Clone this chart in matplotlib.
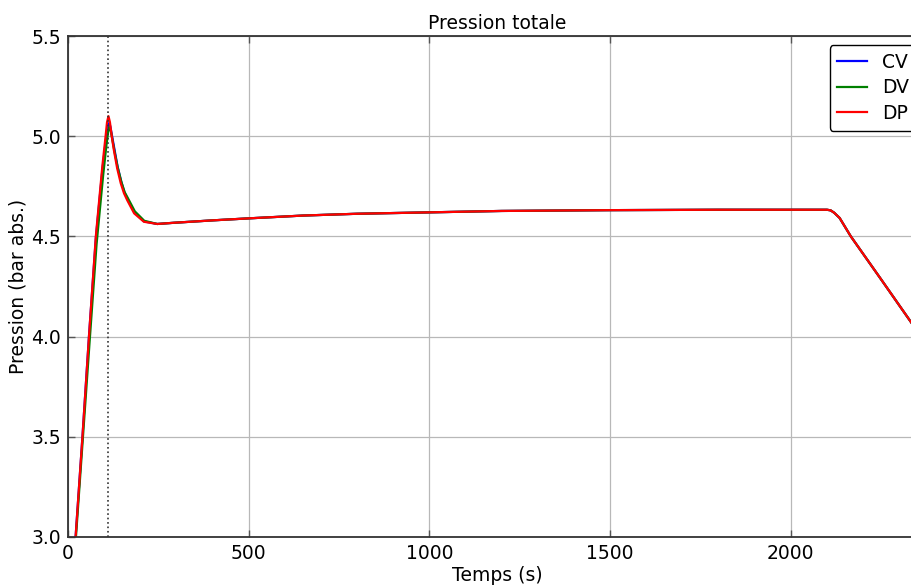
import matplotlib
matplotlib.use("Agg")
import matplotlib.pyplot as plt

# time (s) and total pressure (bar abs.)
# start-up part differs a little between the three cases
t_cv = [10, 21, 40, 58, 77, 95, 104, 109, 113, 117, 122, 128, 137, 147, 156, 165, 184, 210, 247]
p_cv = [2.70, 3.00, 3.50, 4.00, 4.49, 4.83, 4.97, 5.04, 5.065, 5.05, 5.00, 4.94, 4.85, 4.775, 4.72, 4.685, 4.62, 4.575, 4.562]

t_dv = [10, 22, 41, 60, 79, 97, 106, 111, 114, 118, 123, 129, 138, 148, 157, 166, 185, 211, 247]
p_dv = [2.68, 3.00, 3.49, 3.98, 4.46, 4.80, 4.95, 5.02, 5.045, 5.03, 4.98, 4.92, 4.84, 4.77, 4.72, 4.69, 4.625, 4.578, 4.562]

t_dp = [10, 21, 40, 58, 77, 95, 104, 108, 112, 116, 121, 127, 136, 146, 155, 164, 183, 210, 247]
p_dp = [2.70, 3.00, 3.50, 4.00, 4.50, 4.85, 5.00, 5.07, 5.10, 5.07, 5.00, 4.93, 4.84, 4.765, 4.715, 4.68, 4.615, 4.573, 4.562]

# after ~250 s all three curves are on top of each other
t_tail = [293, 400, 500, 650, 800, 1000, 1200, 1500, 1800, 2000, 2100, 2110, 2120, 2135, 2166, 2250, 2338, 2374]
p_tail = [4.568, 4.580, 4.590, 4.604, 4.613, 4.620, 4.627, 4.631, 4.633, 4.633, 4.633, 4.630, 4.618, 4.592, 4.50, 4.285, 4.058, 3.965]

series = [("CV", "b", t_cv, p_cv), ("DV", "g", t_dv, p_dv), ("DP", "r", t_dp, p_dp)]
t_marker = 112  # dotted vertical line

plt.rcParams['font.family'] = ['DejaVu Sans']
fs = 13.5

fig = plt.figure(figsize=(9.12, 5.87), dpi=100)
fig.patch.set_facecolor('white')
ax = fig.add_axes([68/912, 50/587, 858/912, 501/587])

for name, col, t, p in series:
    ax.plot(t + t_tail, p + p_tail, color=col, lw=1.6, label=name)

ax.axvline(t_marker, color='#333333', ls=':', lw=1.2)

ax.set_xlim(0, 2374)
ax.set_ylim(3.0, 5.5)
ax.set_xticks([0, 500, 1000, 1500, 2000])
ax.set_yticks([3.0, 3.5, 4.0, 4.5, 5.0, 5.5])
ax.grid(True, color='#b8b8b8', lw=0.9, ls='-')
ax.set_axisbelow(True)
ax.tick_params(direction='in', length=5, width=1, top=True, right=True,
               color='#555555', labelsize=fs, pad=5)
for s in ax.spines.values():
    s.set_linewidth(1.3)
    s.set_color('#333333')

ax.set_title('Pression totale', fontsize=fs, pad=5)
ax.set_xlabel('Temps (s)', fontsize=fs, labelpad=2)
ax.set_ylabel('Pression (bar abs.)', fontsize=fs, labelpad=3)

leg = ax.legend(loc='upper right', fontsize=fs, fancybox=True,
                handlelength=1.6, labelspacing=0.35, framealpha=1)
leg.get_frame().set_edgecolor('black')
leg.get_frame().set_linewidth(1.0)

fig.savefig('out.png', dpi=100, facecolor='white')
